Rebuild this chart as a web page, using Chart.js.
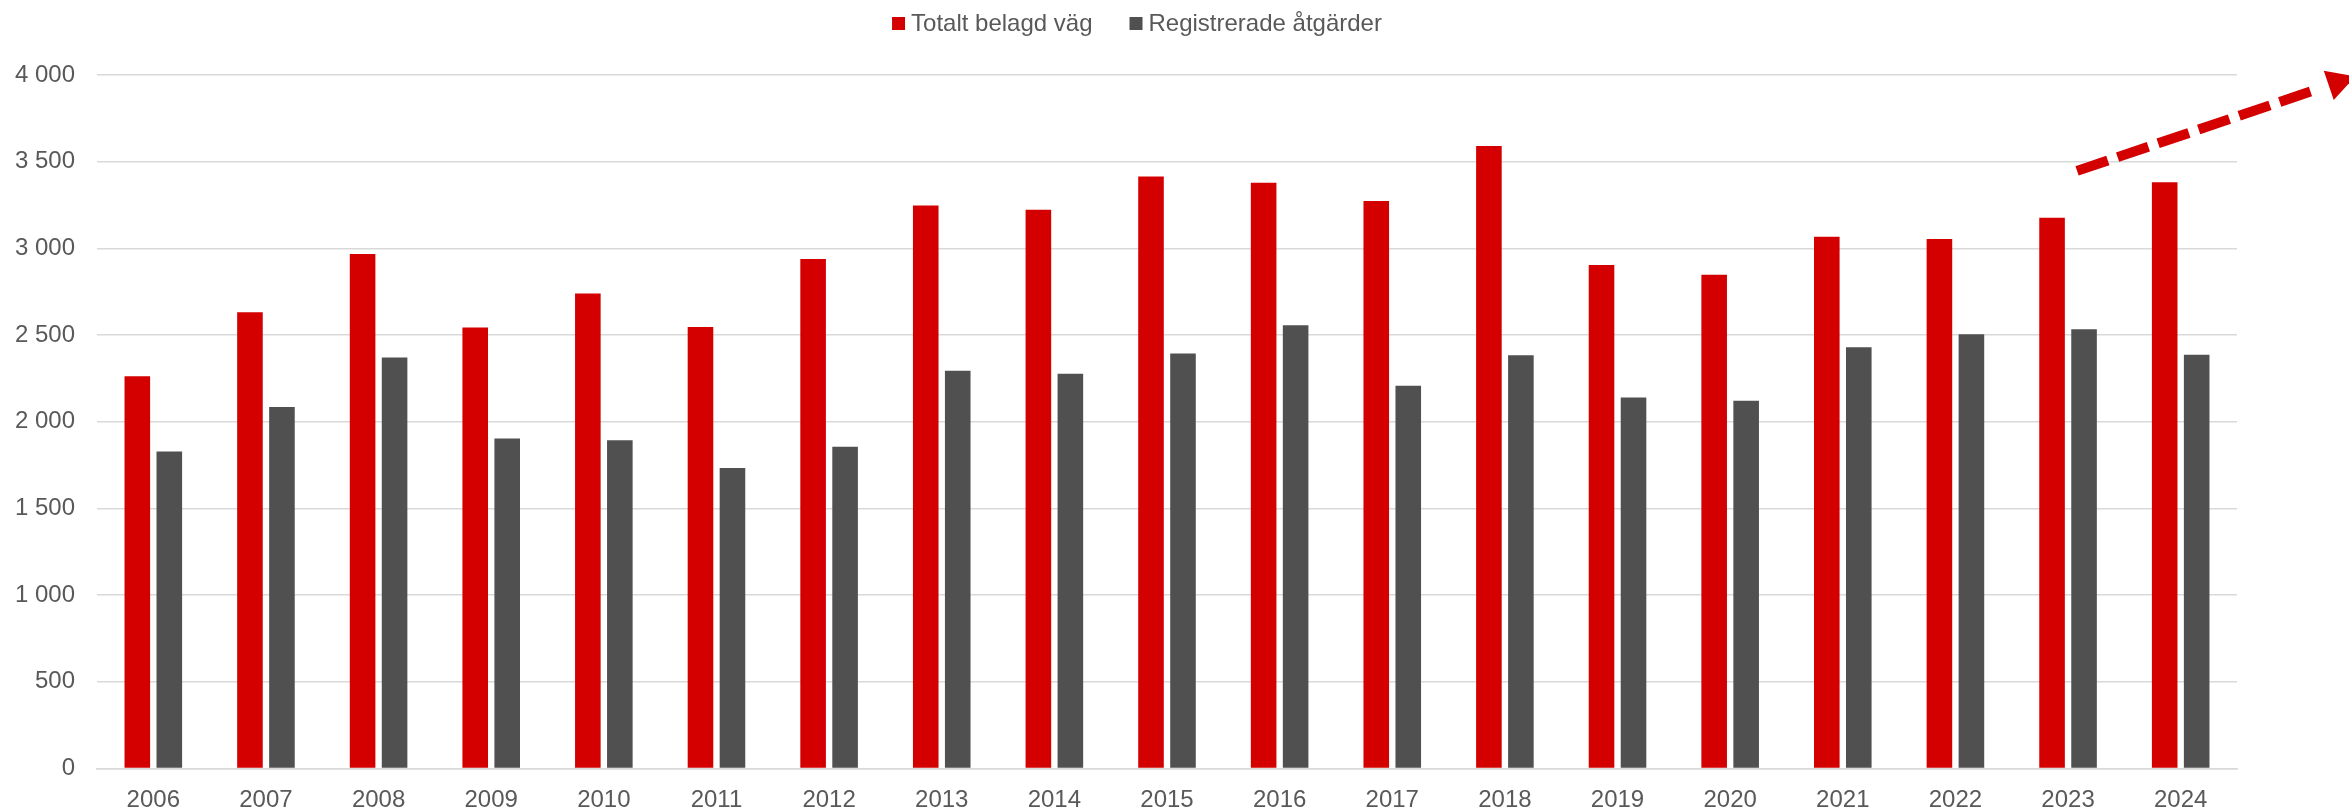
<!DOCTYPE html>
<html>
<head>
<meta charset="utf-8">
<script src="https://cdn.jsdelivr.net/npm/chart.js@4.4.1/dist/chart.umd.min.js"></script>
<style>
  html, body { margin: 0; padding: 0; background: #ffffff; }
  #wrap { width: 2349px; height: 807px; position: relative; }
</style>
</head>
<body>
<div id="wrap"><canvas id="c"></canvas></div>
<script>
const years = ['2006','2007','2008','2009','2010','2011','2012','2013','2014','2015','2016','2017','2018','2019','2020','2021','2022','2023','2024'];
const totaltBelagdVag = [2263, 2631, 2967, 2544, 2740, 2546, 2938, 3248, 3223, 3415, 3379, 3273, 3590, 2904, 2848, 3067, 3054, 3177, 3381];
const registreradeAtgarder = [1829, 2085, 2371, 1904, 1894, 1733, 1856, 2294, 2277, 2394, 2556, 2208, 2383, 2140, 2121, 2429, 2504, 2533, 2387];
const seriesNames = ['Totalt belagd väg', 'Registrerade åtgärder'];
const yTicks = [0, 500, 1000, 1500, 2000, 2500, 3000, 3500, 4000];
// trend arrow annotation in data space: [category index, value]
const arrowFrom = [17.08, 3447];
const arrowTip = [19.55, 3992];

const RED = '#d40000';
const GRAY = '#505050';
const TEXT = '#595959';
const FONT = "'Liberation Sans', Arial, sans-serif";

function fmt(v) {
  return String(v).replace(/\B(?=(\d{3})+(?!\d))/g, ' ');
}

const legendPlugin = {
  id: 'customLegend',
  afterDraw(chart) {
    const ctx = chart.ctx;
    ctx.save();
    ctx.font = '24px ' + FONT;
    ctx.textBaseline = 'middle';
    ctx.textAlign = 'left';
    const box = 13, gap = 6, itemGap = 37;
    const widths = chart.data.datasets.map(d => ctx.measureText(d.label).width);
    let total = 0;
    widths.forEach((w, i) => { total += box + gap + w + (i < widths.length - 1 ? itemGap : 0); });
    let x = 1137 - total / 2;
    const yc = 23.5;
    chart.data.datasets.forEach((d, i) => {
      ctx.fillStyle = d.backgroundColor;
      ctx.fillRect(x, yc - box / 2, box, box);
      ctx.fillStyle = TEXT;
      ctx.fillText(d.label, x + box + gap, yc + 1);
      x += box + gap + widths[i] + itemGap;
    });
    ctx.restore();
  }
};

const arrowPlugin = {
  id: 'trendArrow',
  afterDatasetsDraw(chart) {
    const xs = chart.scales.x, ys = chart.scales.y;
    const sx = xs.getPixelForValue(arrowFrom[0]), sy = ys.getPixelForValue(arrowFrom[1]);
    const tx = xs.getPixelForValue(arrowTip[0]), ty = ys.getPixelForValue(arrowTip[1]);
    const dx = tx - sx, dy = ty - sy;
    const len = Math.hypot(dx, dy);
    const ux = dx / len, uy = dy / len;
    const nx = -uy, ny = ux;
    const headLen = 28, headHalf = 15.5;
    const bx = tx - ux * headLen, by = ty - uy * headLen;
    const dash = 32.5, gapL = 10.3, period = dash + gapL;
    const lineLen = Math.floor(Math.hypot(bx - sx, by - sy) / period) * period;
    const ctx = chart.ctx;
    ctx.save();
    ctx.strokeStyle = RED;
    ctx.fillStyle = RED;
    ctx.lineWidth = 10;
    ctx.lineCap = 'butt';
    ctx.setLineDash([dash, gapL]);
    ctx.beginPath();
    ctx.moveTo(sx, sy);
    ctx.lineTo(sx + ux * lineLen, sy + uy * lineLen);
    ctx.stroke();
    ctx.setLineDash([]);
    ctx.beginPath();
    ctx.moveTo(tx, ty);
    ctx.lineTo(bx + nx * headHalf, by + ny * headHalf);
    ctx.lineTo(bx - nx * headHalf, by - ny * headHalf);
    ctx.closePath();
    ctx.fill();
    ctx.restore();
  }
};

Chart.defaults.font.family = FONT;
Chart.defaults.color = TEXT;

new Chart(document.getElementById('c'), {
  type: 'bar',
  data: {
    labels: years,
    datasets: [
      { label: seriesNames[0], data: totaltBelagdVag, backgroundColor: RED },
      { label: seriesNames[1], data: registreradeAtgarder, backgroundColor: GRAY }
    ]
  },
  options: {
    responsive: true,
    maintainAspectRatio: false,
    animation: false,
    devicePixelRatio: 1,
    categoryPercentage: 0.568,
    barPercentage: 0.8,
    layout: { padding: { top: 75, right: 112, bottom: 0, left: 0 } },
    plugins: {
      legend: { display: false },
      tooltip: { enabled: false }
    },
    scales: {
      x: {
        grid: { display: false, drawTicks: false },
        border: { display: true, color: '#d9d9d9', width: 1.5 },
        ticks: { font: { size: 24 }, color: TEXT, padding: 17, maxRotation: 0 },
        afterFit(scale) { scale.height = 38.5; }
      },
      y: {
        min: 0,
        max: 4000,
        afterBuildTicks(scale) { scale.ticks = yTicks.map(v => ({ value: v })); },
        grid: { color: '#d9d9d9', lineWidth: 1.5, drawTicks: false },
        border: { display: false },
        ticks: { font: { size: 24 }, color: TEXT, padding: 22, callback: v => fmt(v) },
        afterFit(scale) { scale.width = 97; }
      }
    }
  },
  plugins: [legendPlugin, arrowPlugin]
});
</script>
</body>
</html>
